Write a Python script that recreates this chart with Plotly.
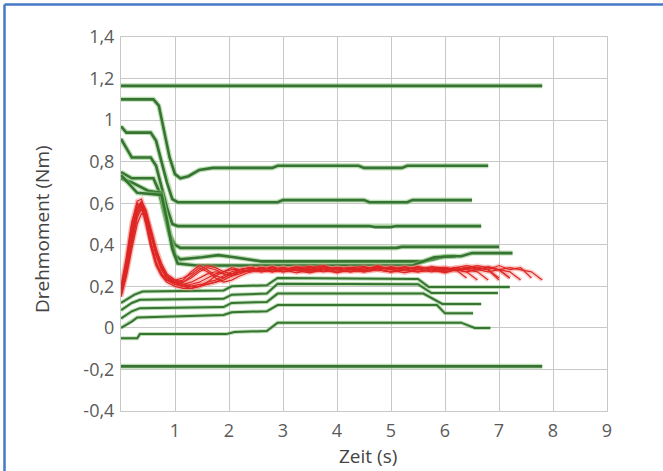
import plotly.graph_objects as go

# ---------------- data ----------------
X_TICKS = [1, 2, 3, 4, 5, 6, 7, 8, 9]
Y_TICKS = [-0.4, -0.2, 0, 0.2, 0.4, 0.6, 0.8, 1.0, 1.2, 1.4]
Y_TICKTEXT = ["-0,4", "-0,2", "0", "0,2", "0,4", "0,6", "0,8", "1", "1,2", "1,4"]

# green (reference) curves: time (s) and torque (Nm)
G_TOP_T = [0, 7.8]
G_TOP_V = [1.165, 1.165]
G_BOT_T = [0, 7.8]
G_BOT_V = [-0.185, -0.185]

GA_T = [0, 0.6, 0.7, 0.8, 0.9, 1.0, 1.1, 1.25, 1.45, 1.7, 2.8, 2.9, 4.4, 4.5, 5.2, 5.3, 6.8]
GA_V = [1.10, 1.10, 1.07, 0.95, 0.82, 0.74, 0.72, 0.73, 0.76, 0.77, 0.77, 0.78, 0.78, 0.77, 0.77, 0.78, 0.78]

GB_T = [0, 0.1, 0.55, 0.65, 0.75, 0.85, 0.95, 1.05, 2.9, 3.0, 4.5, 4.6, 5.3, 5.4, 6.5]
GB_V = [0.97, 0.94, 0.94, 0.90, 0.80, 0.70, 0.62, 0.605, 0.605, 0.615, 0.615, 0.605, 0.605, 0.615, 0.615]

GC_T = [0, 0.2, 0.55, 0.65, 0.75, 0.85, 0.95, 1.05, 4.6, 4.7, 5.0, 5.1, 6.67]
GC_V = [0.91, 0.82, 0.82, 0.78, 0.68, 0.58, 0.50, 0.49, 0.49, 0.485, 0.485, 0.49, 0.49]

GD_T = [0, 0.2, 0.6, 0.7, 0.8, 0.9, 1.0, 1.1, 5.1, 5.2, 7.0]
GD_V = [0.75, 0.72, 0.72, 0.66, 0.55, 0.45, 0.40, 0.385, 0.385, 0.39, 0.39]

GE_T = [0, 0.2, 0.5, 0.75, 0.8, 0.9, 1.0, 1.1, 1.5, 1.8, 2.1, 2.6, 5.6, 5.8, 6.0, 6.3, 6.5, 7.25]
GE_V = [0.72, 0.70, 0.66, 0.65, 0.58, 0.45, 0.35, 0.33, 0.34, 0.35, 0.34, 0.32, 0.32, 0.33, 0.345, 0.345, 0.36, 0.36]

GF_T = [0, 0.3, 0.75, 0.85, 0.95, 1.05, 1.4, 2.0, 3.0, 5.4, 5.6, 5.8, 6.2]
GF_V = [0.735, 0.65, 0.64, 0.52, 0.38, 0.31, 0.30, 0.30, 0.30, 0.30, 0.32, 0.34, 0.345]

L1_T = [0, 0.3, 0.35, 1.95, 2.1, 2.7, 2.9, 6.3, 6.45, 6.55, 6.84]
L1_V = [-0.05, -0.05, -0.03, -0.03, -0.02, -0.015, 0.025, 0.025, 0.01, 0.0, 0.0]

L2_T = [0, 0.2, 0.3, 1.9, 2.05, 2.7, 2.9, 5.85, 6.0, 6.52]
L2_V = [0.0, 0.03, 0.05, 0.062, 0.075, 0.08, 0.11, 0.11, 0.07, 0.07]

L3_T = [0, 0.2, 0.35, 1.9, 2.05, 2.7, 2.9, 5.6, 5.95, 6.67]
L3_V = [0.045, 0.08, 0.095, 0.10, 0.12, 0.125, 0.165, 0.165, 0.115, 0.115]

L4_T = [0, 0.2, 0.35, 1.9, 2.05, 2.7, 2.9, 5.5, 5.75, 6.98]
L4_V = [0.085, 0.12, 0.135, 0.14, 0.16, 0.165, 0.212, 0.21, 0.168, 0.168]

L5_T = [0, 0.25, 0.4, 1.9, 2.05, 2.7, 2.9, 5.5, 5.7, 7.2]
L5_V = [0.12, 0.16, 0.175, 0.18, 0.2, 0.205, 0.24, 0.235, 0.197, 0.197]

# red (measured) curves on a common time grid
T_RED = [0, 0.1, 0.2, 0.3, 0.38, 0.46, 0.55, 0.65, 0.75, 0.85, 1.0, 1.15, 1.3, 1.45,
         1.6, 1.75, 1.9, 2.05, 2.2, 2.4, 2.6, 2.8, 3.0, 3.25, 3.5, 3.75, 4.0, 4.25,
         4.5, 4.75, 5.0, 5.25, 5.5, 5.75, 6.0, 6.2, 6.4, 6.6, 6.8, 7.0, 7.2, 7.4, 7.6, 7.8]

R1 = [0.16, 0.28, 0.44, 0.56, 0.60, 0.55, 0.45, 0.35, 0.28, 0.24, 0.21, 0.20, 0.21, 0.22, 0.24, 0.26, 0.27, 0.28, 0.28, 0.29, 0.28, 0.295, 0.28, 0.29, 0.295, 0.28, 0.29, 0.285, 0.28, 0.295, 0.285, 0.29, 0.28, 0.295, 0.285, 0.28, 0.29, 0.28, 0.295, 0.28, 0.29, 0.28, 0.27, 0.23]
R2 = [0.18, 0.31, 0.48, 0.58, 0.59, 0.52, 0.41, 0.31, 0.26, 0.23, 0.21, 0.22, 0.25, 0.28, 0.30, 0.29, 0.27, 0.26, 0.27, 0.28, 0.29, 0.28, 0.29, 0.275, 0.29, 0.30, 0.28, 0.29, 0.275, 0.285, 0.29, 0.28, 0.295, 0.28, 0.29, 0.275, 0.285, 0.29, 0.28, 0.30, 0.28, 0.29, 0.24]
R3 = [0.15, 0.26, 0.40, 0.53, 0.58, 0.56, 0.48, 0.38, 0.30, 0.25, 0.22, 0.21, 0.20, 0.20, 0.21, 0.22, 0.24, 0.26, 0.27, 0.28, 0.27, 0.28, 0.29, 0.275, 0.265, 0.28, 0.29, 0.28, 0.27, 0.28, 0.29, 0.275, 0.27, 0.28, 0.29, 0.28, 0.27, 0.28, 0.27, 0.28, 0.27, 0.23]
R4 = [0.19, 0.33, 0.50, 0.61, 0.62, 0.54, 0.42, 0.32, 0.26, 0.23, 0.22, 0.23, 0.27, 0.30, 0.28, 0.25, 0.24, 0.26, 0.28, 0.29, 0.28, 0.27, 0.28, 0.295, 0.28, 0.27, 0.28, 0.29, 0.295, 0.28, 0.27, 0.28, 0.295, 0.28, 0.27, 0.28, 0.29, 0.30, 0.29, 0.28, 0.24]
R5 = [0.17, 0.29, 0.46, 0.57, 0.61, 0.57, 0.47, 0.36, 0.29, 0.25, 0.22, 0.20, 0.19, 0.20, 0.22, 0.25, 0.27, 0.29, 0.28, 0.27, 0.28, 0.29, 0.28, 0.265, 0.28, 0.29, 0.28, 0.27, 0.28, 0.29, 0.28, 0.265, 0.28, 0.29, 0.28, 0.29, 0.30, 0.29, 0.28, 0.23]
R6 = [0.16, 0.27, 0.42, 0.54, 0.57, 0.53, 0.45, 0.36, 0.29, 0.25, 0.23, 0.24, 0.26, 0.29, 0.27, 0.24, 0.22, 0.23, 0.25, 0.27, 0.28, 0.27, 0.28, 0.29, 0.28, 0.295, 0.28, 0.27, 0.28, 0.29, 0.28, 0.295, 0.28, 0.27, 0.28, 0.29, 0.28, 0.27, 0.23]
R7 = [0.18, 0.30, 0.47, 0.59, 0.60, 0.51, 0.40, 0.31, 0.26, 0.23, 0.21, 0.20, 0.20, 0.21, 0.21, 0.22, 0.23, 0.25, 0.27, 0.28, 0.29, 0.28, 0.27, 0.28, 0.29, 0.28, 0.265, 0.28, 0.29, 0.28, 0.27, 0.28, 0.29, 0.28, 0.265, 0.28, 0.27, 0.23]
R8 = [0.15, 0.25, 0.38, 0.50, 0.55, 0.54, 0.47, 0.38, 0.31, 0.26, 0.23, 0.22, 0.24, 0.27, 0.29, 0.28, 0.26, 0.25, 0.26, 0.28, 0.27, 0.28, 0.29, 0.28, 0.27, 0.28, 0.29, 0.28, 0.27, 0.28, 0.295, 0.28, 0.27, 0.28, 0.29, 0.28, 0.24]
R9 = [0.20, 0.34, 0.51, 0.60, 0.58, 0.50, 0.39, 0.30, 0.25, 0.22, 0.20, 0.19, 0.19, 0.20, 0.22, 0.23, 0.25, 0.27, 0.28, 0.29, 0.28, 0.29, 0.28, 0.29, 0.275, 0.29, 0.28, 0.29, 0.28, 0.30, 0.28, 0.29, 0.28, 0.29, 0.275, 0.29, 0.28, 0.29, 0.28, 0.24]
R10 = [0.17, 0.28, 0.43, 0.55, 0.59, 0.56, 0.46, 0.35, 0.28, 0.24, 0.22, 0.21, 0.22, 0.24, 0.26, 0.27, 0.26, 0.25, 0.27, 0.28, 0.29, 0.28, 0.27, 0.28, 0.29, 0.28, 0.27, 0.28, 0.29, 0.28, 0.27, 0.28, 0.29, 0.28, 0.27, 0.28, 0.29, 0.28, 0.29, 0.28, 0.24]

# ---------------- figure ----------------
GREEN_CORE = "rgb(55,115,50)"
GREEN_HALO = "rgba(130,195,115,0.55)"
RED = "rgb(222,38,36)"
RED_HALO = "rgba(240,130,120,0.35)"

upper = [(G_TOP_T, G_TOP_V), (GA_T, GA_V), (GB_T, GB_V), (GC_T, GC_V), (GD_T, GD_V),
         (GE_T, GE_V), (GF_T, GF_V), (G_BOT_T, G_BOT_V)]
lower = [(L1_T, L1_V), (L2_T, L2_V), (L3_T, L3_V), (L4_T, L4_V), (L5_T, L5_V)]
reds = [R1, R2, R3, R4, R5, R6, R7, R8, R9, R10]

fig = go.Figure()

def add_green(t, v, core_w, halo_w):
    fig.add_trace(go.Scatter(x=t, y=v, mode="lines", hoverinfo="skip",
                             line=dict(color=GREEN_HALO, width=halo_w), showlegend=False))
    fig.add_trace(go.Scatter(x=t, y=v, mode="lines",
                             line=dict(color=GREEN_CORE, width=core_w), showlegend=False))

for t, v in upper:
    add_green(t, v, 2.6, 5)
for t, v in lower:
    add_green(t, v, 2.0, 4)

for r in reds:
    fig.add_trace(go.Scatter(x=T_RED[:len(r)], y=r, mode="lines", hoverinfo="skip",
                             line=dict(color=RED_HALO, width=4.5), showlegend=False))
for r in reds:
    fig.add_trace(go.Scatter(x=T_RED[:len(r)], y=r, mode="lines",
                             line=dict(color=RED, width=1.2), showlegend=False))

L, R, T, B = 121, 56, 37, 60
W, H = 663, 471
pw, ph = W - L - R, H - T - B

def px_x(p):
    return (p - L) / pw

def px_y(p):
    return (H - B - p) / ph

FONT = "Open Sans"
fig.update_layout(
    width=W, height=H,
    margin=dict(l=L, r=R, t=T, b=B),
    paper_bgcolor="white", plot_bgcolor="white",
    font=dict(family=FONT, color="#555555", size=18),
    xaxis=dict(range=[0, 9], tickvals=X_TICKS, ticktext=[str(v) for v in X_TICKS],
               showgrid=True, gridcolor="rgb(200,200,200)", gridwidth=1,
               showline=True, linecolor="rgb(200,200,200)", linewidth=1, mirror=True,
               zeroline=False, ticks="outside", ticklen=3, tickcolor="rgba(0,0,0,0)",
               tickfont=dict(size=18, color="#5a5a5a")),
    yaxis=dict(range=[-0.4, 1.4], tickvals=Y_TICKS, ticktext=Y_TICKTEXT,
               showgrid=True, gridcolor="rgb(200,200,200)", gridwidth=1,
               showline=True, linecolor="rgb(200,200,200)", linewidth=1, mirror=True,
               zeroline=False, ticks="outside", ticklen=2, tickcolor="rgba(0,0,0,0)",
               tickfont=dict(size=18, color="#5a5a5a")),
    annotations=[
        dict(text="Drehmoment (Nm)", xref="paper", yref="paper", x=px_x(42), y=px_y(229),
             textangle=-90, showarrow=False, xanchor="center", yanchor="middle",
             font=dict(size=19, color="#444444", family=FONT)),
        dict(text="Zeit (s)", xref="paper", yref="paper", x=px_x(368), y=px_y(456),
             showarrow=False, xanchor="center", yanchor="middle",
             font=dict(size=19, color="#444444", family=FONT)),
    ],
    shapes=[
        dict(type="line", xref="paper", yref="paper", x0=px_x(4.5), x1=px_x(W + 2),
             y0=px_y(4.5), y1=px_y(4.5), line=dict(color="rgb(70,120,200)", width=2.5)),
        dict(type="line", xref="paper", yref="paper", x0=px_x(4.5), x1=px_x(4.5),
             y0=px_y(4.5), y1=px_y(H + 2), line=dict(color="rgb(70,120,200)", width=2.5)),
    ],
)

fig.write_html("out.html", config={"displayModeBar": False},
               post_script="document.body.style.margin='0';document.body.style.padding='0';")
